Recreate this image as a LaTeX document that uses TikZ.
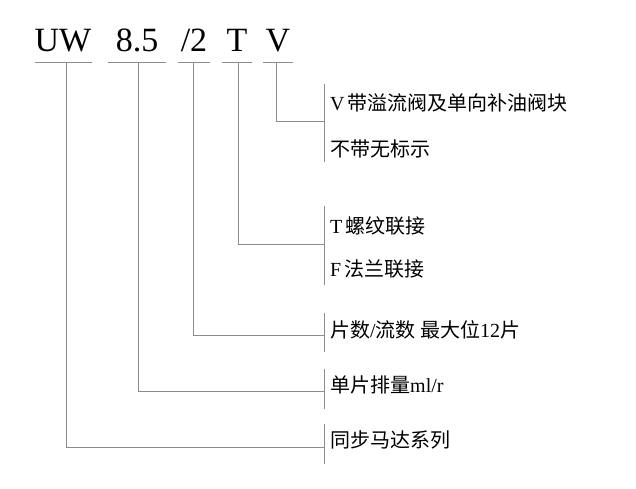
\documentclass[tikz,border=0pt]{standalone}
\usepackage{fontspec}
\setmainfont{Liberation Serif}
\newfontfamily\cjk{Noto Sans CJK SC}
\begin{document}
\begin{tikzpicture}[x=1pt,y=-1pt]
  \tikzset{lead/.style={draw=black!45, line width=0.9pt},
           code/.style={font=\fontsize{34}{34}\selectfont, anchor=base, inner sep=0pt},
           note/.style={font=\fontsize{20}{22}\selectfont, anchor=west, inner sep=0pt}}
  \useasboundingbox (0,0) rectangle (636,489);

  % header code
  \node [code] (uw) at (63,52) {UW};
  \node [code] (sz) at (137,52) {8.5};
  \node [code] (pc) at (194,52) {/2};
  \node [code] (tp) at (237,52) {T};
  \node [code] (vv) at (278,52) {V};

  % underlines
  \foreach \a/\b in {35/92,108/166,178/210,222/252,263/293}
    \draw [lead] (\a,62) -- (\b,62);

  % brackets
  \foreach \t/\b in {84/162,206/285,313/352,369/409,424/464}
    \draw [lead] (324,\t) -- (324,\b);

  % leaders
  \draw [lead] (276,62) |- (324,121);
  \draw [lead] (238,62) |- (324,244);
  \draw [lead] (193,62) |- (324,335);
  \draw [lead] (138,62) |- (324,391);
  \draw [lead] (66,62)  |- (324,447);

  % notes
  \node [note] (n1) at (330,103) {V\,{\cjk 带溢流阀及单向补油阀块}};
  \node [note] (n2) at (330,149) {{\cjk 不带无标示}};
  \node [note] (n3) at (330,226) {T\,{\cjk 螺纹联接}};
  \node [note] (n4) at (330,269) {F\,{\cjk 法兰联接}};
  \node [note] (n5) at (330,330) {{\cjk 片数}/{\cjk 流数 最大位}12{\cjk 片}};
  \node [note] (n6) at (330,385) {{\cjk 单片排量}ml/r};
  \node [note] (n7) at (330,440) {{\cjk 同步马达系列}};
\end{tikzpicture}
\end{document}
